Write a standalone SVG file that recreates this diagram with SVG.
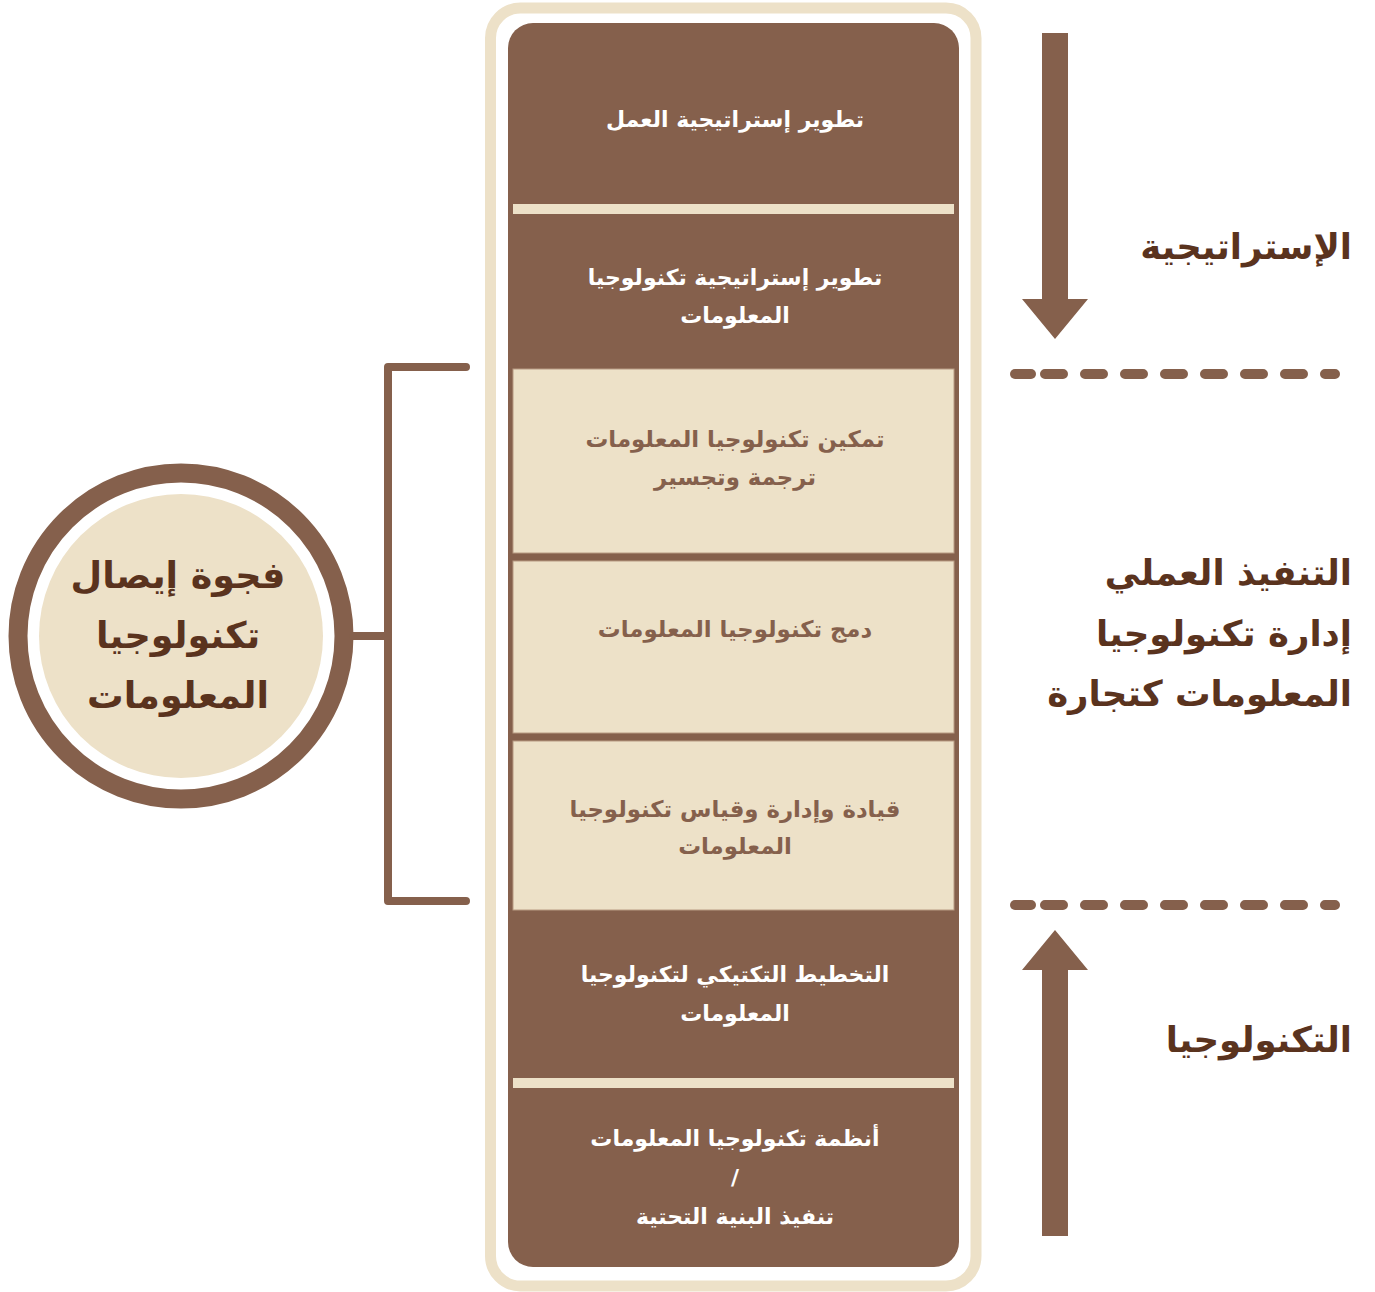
<svg xmlns="http://www.w3.org/2000/svg" width="1375" height="1292" viewBox="0 0 1375 1292">
  <style>
    .dark { fill: #85604C; }
    .light { fill: #EDE1C8; }
    .cell-light { fill: #EDE1C8; stroke: #B89A82; stroke-width: 1; }
    .t-white { font-family: "DejaVu Sans", sans-serif; font-size: 22px; font-weight: bold; fill: #FFFFFF; text-anchor: middle; }
    .t-brown { font-family: "DejaVu Sans", sans-serif; font-size: 22.8px; font-weight: bold; fill: #85604C; text-anchor: middle; }
    .label { font-family: "DejaVu Sans", sans-serif; font-size: 35.5px; font-weight: bold; fill: #5A331E; text-anchor: end; }
    .gap-t { font-family: "DejaVu Sans", sans-serif; font-size: 36.5px; font-weight: bold; fill: #5A331E; text-anchor: middle; }
    .dash { stroke: #85604C; stroke-width: 10; stroke-linecap: round; fill: none; }
    .bracket { stroke: #85604C; stroke-width: 8; stroke-linecap: round; stroke-linejoin: round; fill: none; }
  </style>

  <!-- outer frame of the stack -->
  <rect x="490.5" y="8" width="485.5" height="1278" rx="30" fill="#FFFFFF" stroke="#EDE1C8" stroke-width="11"/>

  <!-- brown column background -->
  <rect class="dark" x="508" y="23" width="451" height="1244" rx="25"/>

  <g id="node-business-strategy">
    <text class="t-white" x="735" y="127">تطوير إستراتيجية العمل</text>
  </g>
  <rect class="light" x="513" y="204" width="441" height="10"/>

  <g id="node-it-strategy">
    <text class="t-white" x="735" y="285">تطوير إستراتيجية تكنولوجيا</text>
    <text class="t-white" x="735" y="323">المعلومات</text>
  </g>

  <g id="node-enable">
    <rect class="cell-light" x="513" y="369" width="441" height="184"/>
    <text class="t-brown" x="735" y="447">تمكين تكنولوجيا المعلومات</text>
    <text class="t-brown" x="735" y="485">ترجمة وتجسير</text>
  </g>

  <g id="node-integrate">
    <rect class="cell-light" x="513" y="561" width="441" height="172"/>
    <text class="t-brown" x="735" y="637">دمج تكنولوجيا المعلومات</text>
  </g>

  <g id="node-lead">
    <rect class="cell-light" x="513" y="741" width="441" height="169"/>
    <text class="t-brown" x="735" y="817">قيادة وإدارة وقياس تكنولوجيا</text>
    <text class="t-brown" x="735" y="854">المعلومات</text>
  </g>

  <g id="node-tactical">
    <text class="t-white" x="735" y="982">التخطيط التكتيكي لتكنولوجيا</text>
    <text class="t-white" x="735" y="1021">المعلومات</text>
  </g>
  <rect class="light" x="513" y="1078" width="441" height="10"/>

  <g id="node-systems">
    <text class="t-white" x="735" y="1146">أنظمة تكنولوجيا المعلومات</text>
    <text class="t-white" x="735" y="1185">/</text>
    <text class="t-white" x="735" y="1224">تنفيذ البنية التحتية</text>
  </g>

  <!-- gap circle -->
  <g id="node-gap">
    <circle cx="181" cy="636" r="163" fill="#FFFFFF" stroke="#85604C" stroke-width="19"/>
    <circle cx="181" cy="636" r="142" fill="#EDE1C8"/>
    <text class="gap-t" x="178" y="588">فجوة إيصال</text>
    <text class="gap-t" x="178" y="648">تكنولوجيا</text>
    <text class="gap-t" x="178" y="708">المعلومات</text>
  </g>

  <!-- side labels -->
  <g id="label-strategy">
    <text class="label" x="1352" y="259">الإستراتيجية</text>
  </g>
  <g id="label-operations">
    <text class="label" x="1352" y="585">التنفيذ العملي</text>
    <text class="label" x="1352" y="646">إدارة تكنولوجيا</text>
    <text class="label" x="1352" y="706">المعلومات كتجارة</text>
  </g>
  <g id="label-technology">
    <text class="label" x="1352" y="1052">التكنولوجيا</text>
  </g>

  <g id="connectors">
    <!-- bracket spanning the light cells, joined to the circle -->
    <path class="bracket" d="M466 367 H388 V901 H466"/>
    <line class="bracket" x1="353" y1="636" x2="388" y2="636" stroke-linecap="butt"/>

    <!-- downward arrow -->
    <path class="dark" d="M1042 33 H1068 V299 H1088 L1055 339 L1022 299 H1042 Z"/>
    <!-- upward arrow -->
    <path class="dark" d="M1042 1236 H1068 V970 H1088 L1055 930 L1022 970 H1042 Z"/>

    <!-- dashed dividers -->
    <line class="dash" x1="1015" y1="374" x2="1031" y2="374"/>
    <line class="dash" x1="1045" y1="374" x2="1335" y2="374" stroke-dasharray="18 22"/>
    <line class="dash" x1="1015" y1="905" x2="1031" y2="905"/>
    <line class="dash" x1="1045" y1="905" x2="1335" y2="905" stroke-dasharray="18 22"/>
  </g>
</svg>
